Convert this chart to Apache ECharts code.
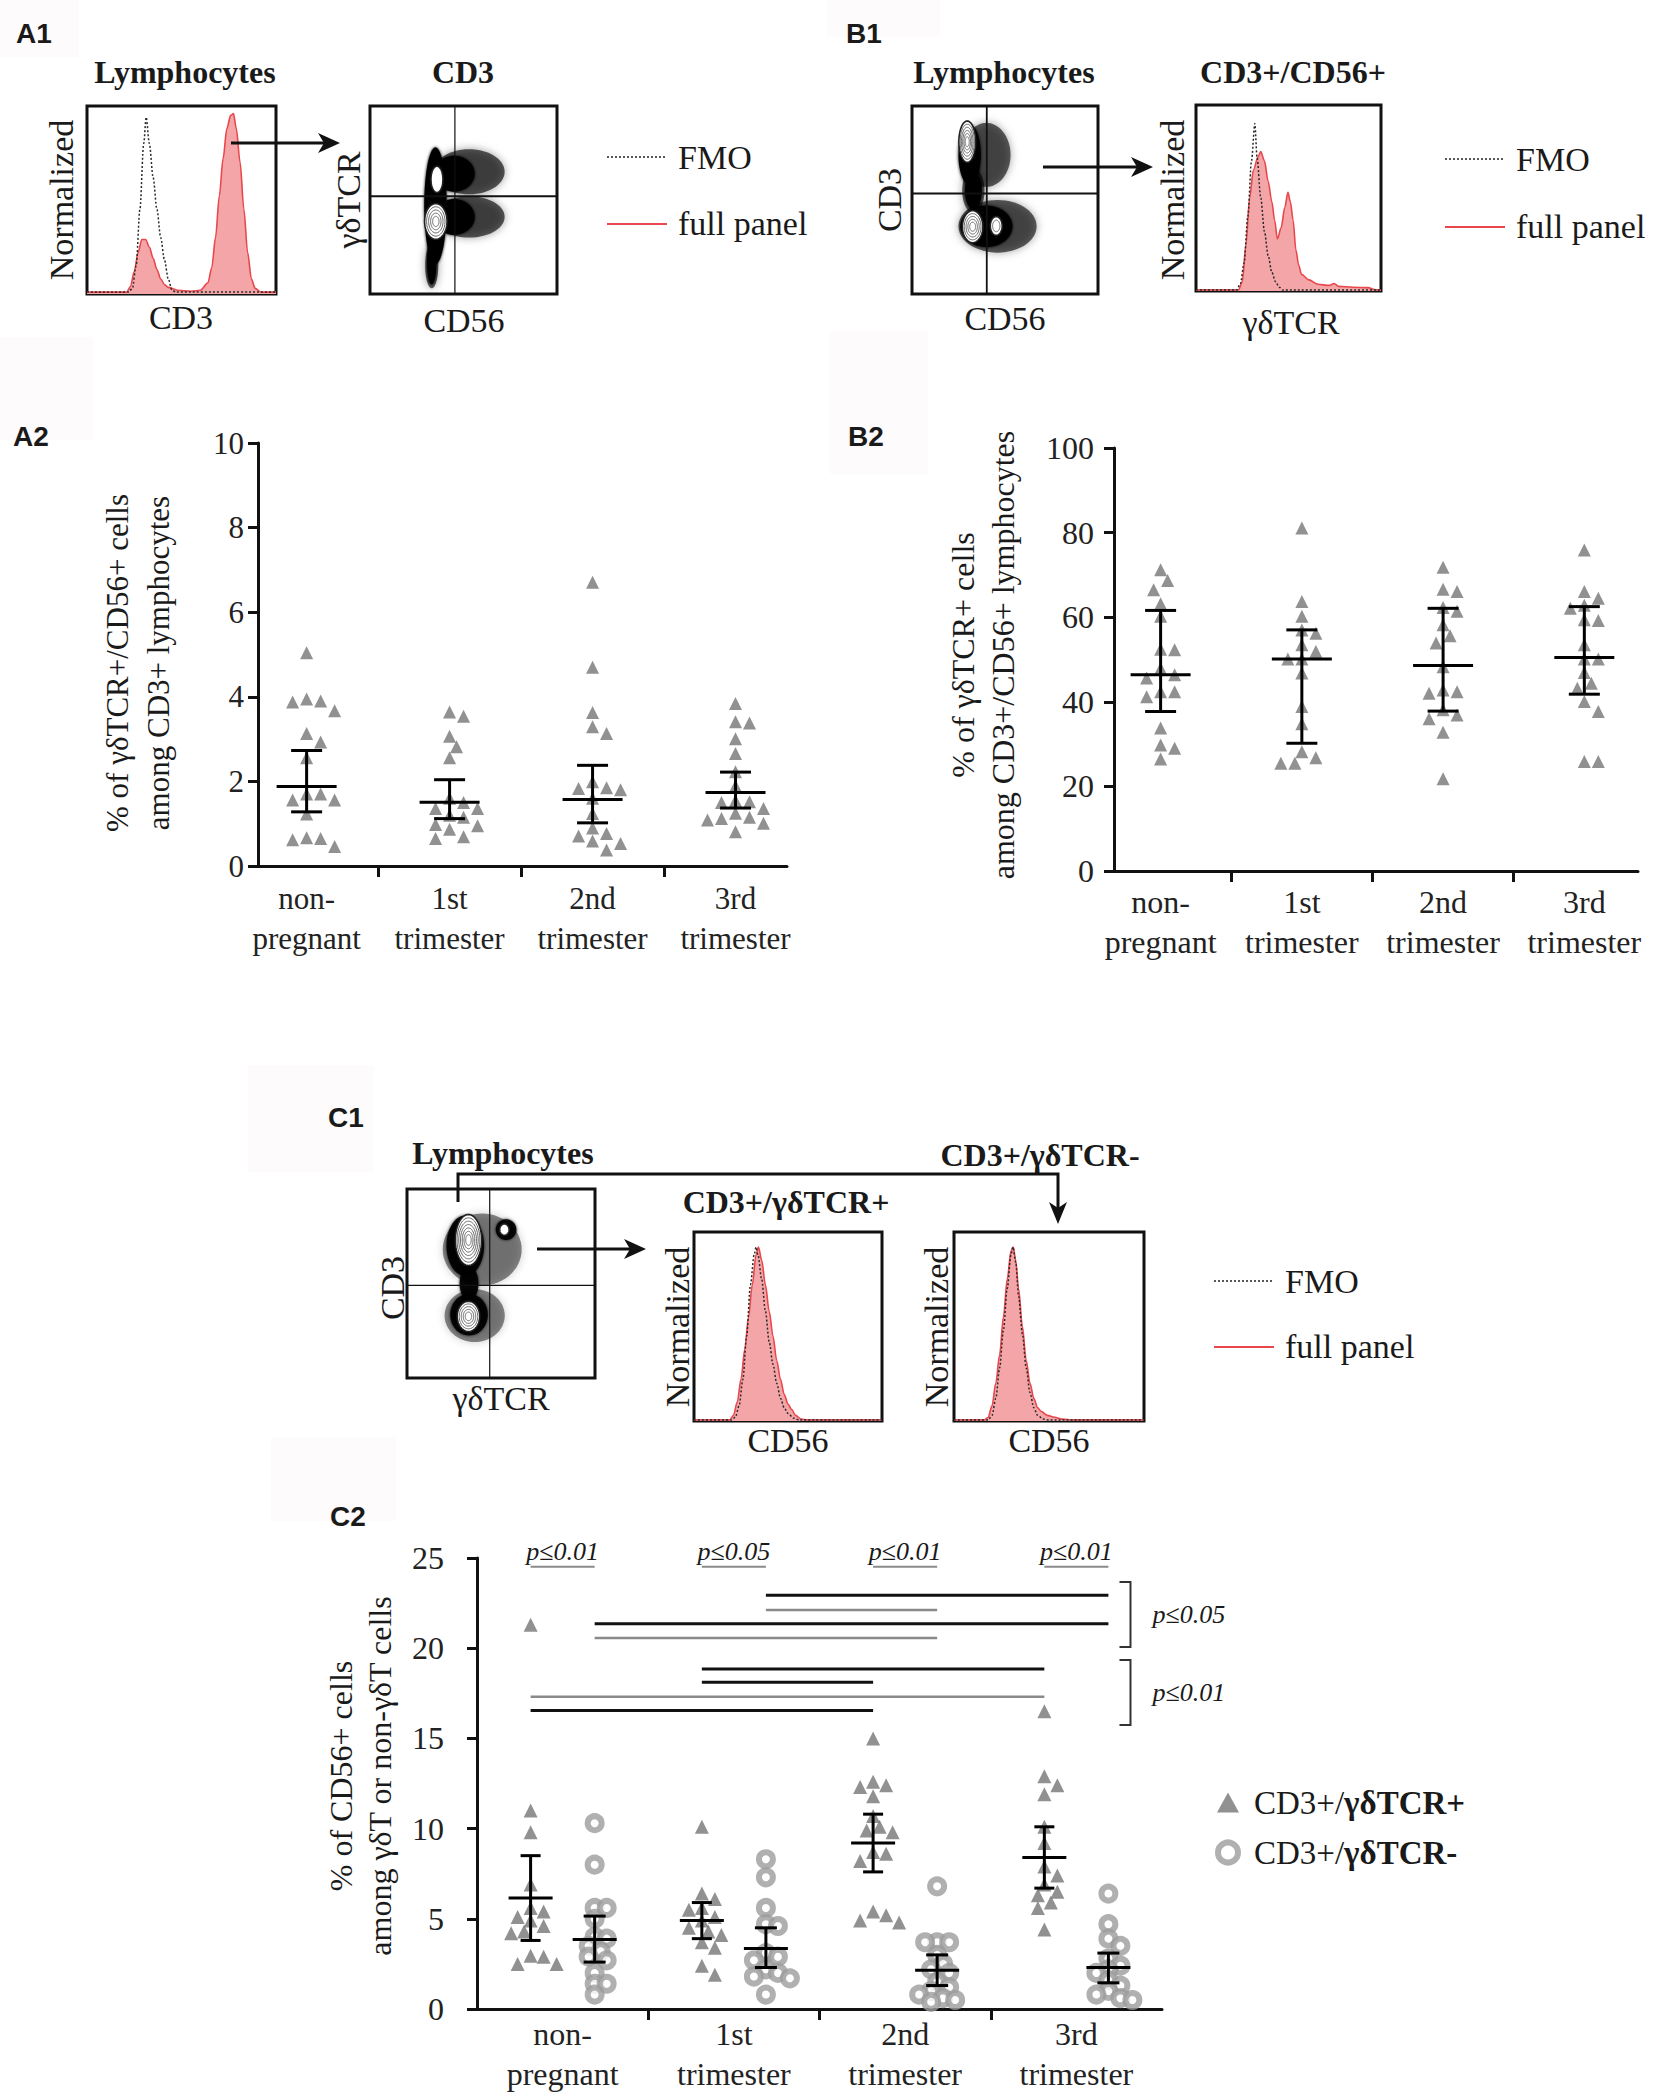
<!DOCTYPE html>
<html>
<head>
<meta charset="utf-8">
<title>CD56 on gamma-delta T cells</title>
<script src="https://cdn.jsdelivr.net/npm/echarts@6.0.0/dist/echarts.min.js"></script>
<style>
  html, body { margin:0; padding:0; background:#fff; }
  #chart { width:1654px; height:2098px; }
</style>
</head>
<body>
<div id="chart"></div>
<script>
var SERIF = "'Liberation Serif','Times New Roman',Times,serif";
var SANS = "'Liberation Sans Narrow','Liberation Sans',Arial,sans-serif";
var INK = "#1a1a1a";

// x axis groups of A2, B2, C2
var groupNames = ["non-\npregnant", "1st\ntrimester", "2nd\ntrimester", "3rd\ntrimester"];

// A2 : % of γδTCR+/CD56+ among CD3+ lymphocytes
var a2NonPreg = [5.04, 3.95, 3.9, 3.88, 3.67, 3.13, 2.93, 2.56, 1.7, 1.7, 1.56, 1.56, 1.23, 0.67, 0.65, 0.62, 0.46];
var a2First   = [3.64, 3.54, 3.07, 2.82, 2.56, 1.6, 1.5, 1.36, 1.36, 1.2, 1.15, 0.98, 0.95, 0.87, 0.69, 0.65];
var a2Second  = [6.71, 4.7, 3.63, 3.29, 3.13, 1.99, 1.85, 1.83, 1.8, 1.6, 1.24, 0.9, 0.77, 0.71, 0.59, 0.53, 0.38];
var a2Third   = [3.84, 3.41, 3.38, 3.01, 2.66, 2.23, 1.89, 1.55, 1.52, 1.5, 1.36, 1.25, 1.15, 1.12, 1.09, 1.01, 0.81];
var a2Mean = [1.88, 1.51, 1.57, 1.74];
var a2Low  = [1.28, 1.12, 1.02, 1.37];
var a2High = [2.73, 2.04, 2.38, 2.22];

// B2 : % of γδTCR+ among CD3+/CD56+ lymphocytes
var b2NonPreg = [71.2, 68.7, 66.5, 63.2, 60.2, 52.4, 52.3, 47.9, 46.4, 45.6, 42.4, 42.4, 41.2, 33.8, 29.8, 29.0, 26.5];
var b2First   = [81.1, 63.7, 60.2, 57.0, 56.2, 53.5, 51.9, 50.1, 50.1, 46.8, 38.9, 34.8, 28.2, 26.8, 25.5, 25.5];
var b2Second  = [71.8, 66.6, 66.1, 62.3, 61.4, 58.2, 55.6, 53.9, 48.3, 42.8, 42.4, 42.0, 38.1, 36.9, 36.0, 32.8, 21.8];
var b2Third   = [75.9, 66.1, 64.5, 62.8, 62.1, 59.4, 59.2, 53.5, 50.1, 50.1, 46.9, 44.4, 43.2, 40.1, 37.7, 25.9, 25.9];
var b2Mean = [46.4, 50.1, 48.6, 50.5];
var b2Low  = [37.7, 30.2, 37.8, 41.8];
var b2High = [61.6, 57.0, 62.1, 62.5];

// C2 : % of CD56+ among γδT (triangles) or non-γδT (circles)
var c2TriNonPreg = [21.3, 11.0, 9.8, 6.9, 5.6, 5.4, 5.1, 4.9, 4.6, 4.3, 4.2, 2.95, 2.9, 2.5, 2.5];
var c2TriFirst   = [10.1, 6.4, 6.1, 5.6, 5.5, 5.1, 4.9, 4.5, 4.3, 4.1, 3.7, 3.4, 2.4, 1.9];
var c2TriSecond  = [15.0, 12.6, 12.4, 12.3, 11.8, 10.7, 10.1, 9.9, 9.8, 8.7, 8.6, 8.2, 5.4, 5.2, 4.9, 4.8];
var c2TriThird   = [16.5, 12.9, 12.4, 11.9, 10.1, 9.2, 7.9, 7.4, 6.9, 6.5, 6.3, 5.9, 5.6, 4.4];
var c2CirNonPreg = [10.3, 8.0, 5.6, 5.6, 5.0, 4.0, 3.9, 3.5, 3.2, 2.9, 2.7, 2.0, 1.4, 1.4, 0.8];
var c2CirFirst   = [8.3, 7.3, 5.6, 4.7, 4.6, 3.1, 2.9, 2.7, 2.2, 2.0, 1.8, 1.7, 0.8];
var c2CirSecond  = [6.8, 3.7, 3.7, 3.7, 3.0, 2.5, 2.2, 2.0, 1.5, 1.2, 1.0, 0.8, 0.6, 0.5, 0.4];
var c2CirThird   = [6.4, 4.7, 3.9, 3.5, 2.8, 2.4, 2.2, 2.0, 1.6, 1.3, 1.0, 0.8, 0.6, 0.5];
var c2TriMean = [6.15, 4.9, 9.2, 8.4];
var c2TriLow  = [3.8, 3.9, 7.6, 6.7];
var c2TriHigh = [8.5, 5.9, 10.8, 10.1];
var c2CirMean = [3.85, 3.35, 2.15, 2.3];
var c2CirLow  = [2.6, 2.3, 1.3, 1.45];
var c2CirHigh = [5.15, 4.5, 3.0, 3.1];

// C2 comparison bars (from group, to group, side 1=circles -1=triangles, y, dark)
var sigFrom = [1, 1, 0, 0, 1, 1, 0, 0];
var sigTo   = [3, 2, 3, 2, 3, 2, 3, 2];
var sigSide = [1, 1, 1, 1, -1, -1, -1, -1];
var sigY    = [22.93, 22.12, 21.36, 20.57, 18.85, 18.11, 17.31, 16.54];
var sigDark = [1, 0, 1, 0, 1, 1, 0, 1];
var pTop = ["p≤0.01", "p≤0.05", "p≤0.01", "p≤0.01"];
var pBrackets = [[23.67, 20.07, "p≤0.05"], [19.35, 15.74, "p≤0.01"]];

// flow histograms, box units 0..100
var a1Fmo  = [[0,1],[22,1],[24,3],[26,15],[28,45],[30,80],[31.3,94],[33,80],[35,62],[37,45],[39,30],[41,18],[43,8],[45,2],[47,1],[100,1]];
var a1Full = [[0,1],[21,1],[23,4],[25,12],[27,22],[29,29],[31,29],[33,25],[35,19],[37,13],[39,8],[41,5],[43,3.5],[48,2],[55,1.5],[60,2],[64,6],[66,14],[68,30],[70,52],[72,72],[74,88],[76,95],[77.5,96],[79,88],[81,70],[83,45],[85,22],[87,8],[89,3],[92,1],[100,1]];
var b1Fmo  = [[0,0.5],[22,0.5],[24,4],[26,15],[28,40],[30,70],[31.8,90],[33,72],[35,50],[37,32],[39,19],[41,10],[43,5],[45,2],[47,0.5],[100,0.5]];
var b1Full = [[0,0.5],[23,0.5],[25,5],[27,25],[29,50],[31,65],[33.5,72],[35,75],[37,70],[39,59],[41,48],[42.5,38],[44,28],[46,34],[48,45],[49.7,53],[51,48],[52.5,38],[54,22],[55.5,14],[57,9],[61,6],[66,3.6],[72,3],[74.7,4],[77,2.5],[85,2],[93,1.8],[97,0.6],[100,0.5]];
var c1PosFmo  = [[0,0.5],[20,0.5],[22,2],[24,8],[26,22],[28,45],[30,72],[32,88],[33,92],[34,88],[36,75],[38,58],[40,42],[42,30],[44,20],[46,12],[48,7],[50,4],[53,1.5],[56,0.5],[100,0.5]];
var c1PosFull = [[0,0.5],[19,0.5],[21,3],[23,10],[25,22],[27,38],[29,55],[31,72],[33,88],[34.3,92],[36,85],[38,72],[40,58],[42,45],[44,32],[46,22],[48,14],[50,9],[52,6],[54,3],[57,1],[60,0.5],[100,0.5]];
var c1NegFmo  = [[0,0.5],[18,0.5],[20,3],[22,12],[24,28],[26,48],[28,70],[30,88],[31,92],[32.5,84],[34,66],[36,46],[38,28],[40,15],[42,7],[44,3],[47,1],[50,0.5],[100,0.5]];
var c1NegFull = [[0,0.5],[16,0.5],[18,2],[20,8],[22,20],[24,35],[26,55],[28,75],[30,90],[31.2,92],[32.5,85],[34,70],[36,50],[38,32],[40,20],[42,12],[44,7],[46,5],[49,3],[53,2],[57,1],[62,0.5],[100,0.5]];

// flow dot plots: populations [cx, cy, rx, ry], contour islands [cx, cy, rx, ry, rings], gates [x, y]
var a1Dense   = [[35,47,6,31],[45,64,11,9.5],[45,41,11,9.5],[33,17,2.5,12]];
var a1Sparse  = [[53,65,19,12],[53,41,19,11],[33,15,3.5,12]];
var a1Islands = [[35.8,61,3.2,7,1],[35.2,38.6,6,9.5,5]];
var a1Gate    = [[45.4,52]];
var b1Dense   = [[31,74,6,16],[33,55,4.5,10],[40,36,14,11]];
var b1Sparse  = [[40,74,13,17],[46,36,21,14],[33,55,6,12]];
var b1Islands = [[29.7,81,4.5,11,6],[32.6,35.8,5.5,8.5,5],[45.3,36.2,3.2,5,2]];
var b1Gate    = [[40.2,53.5]];
var c1Dense   = [[31,70,10,16],[52.7,78.5,5.5,5.5],[33,50,5,9],[33,33.5,10,11]];
var c1Sparse  = [[40,68,21,19],[36,33,16,14]];
var c1Islands = [[32.7,73,7,13.5,7],[51.8,78.5,2.5,3,1],[32.7,32.6,6,8,5]];
var c1Gate    = [[44,49]];

// grid boxes
var grids = [
  {left:87,  top:106,  width:189, height:188},  // 0 A1 histogram
  {left:370, top:106,  width:187, height:188},  // 1 A1 dot plot
  {left:912, top:106,  width:186, height:188},  // 2 B1 dot plot
  {left:1196,top:105,  width:185, height:186},  // 3 B1 histogram
  {left:258, top:443,  width:529, height:423},  // 4 A2
  {left:1114,top:448,  width:524, height:423},  // 5 B2
  {left:407, top:1189, width:188, height:189},  // 6 C1 dot plot
  {left:694, top:1232, width:188, height:189},  // 7 C1 hist +
  {left:954, top:1232, width:190, height:189},  // 8 C1 hist -
  {left:477, top:1558, width:685, height:451}   // 9 C2
];
var xRange = {4:[-0.34,3.36], 5:[-0.33,3.38], 9:[-0.5,3.5]};
var C2_OFF = 0.187;

function unitX(g){ return grids[g].width/(xRange[g][1]-xRange[g][0]); }

// simple beeswarm, keeps dots from overlapping
function swarm(vals, center, ux, uy, gap){
  var placed = [], out = [];
  var order = vals.map(function(v,i){return i;}).sort(function(a,b){return vals[b]-vals[a];});
  order.forEach(function(i){
    var v = vals[i], y = v*uy, off = 0;
    for (var k=0; k<80; k++){
      off = k===0 ? 0 : (k%2===1 ? 1 : -1)*Math.ceil(k/2)*gap*0.5;
      var ok = placed.every(function(p){ var dx=off-p[0], dy=y-p[1]; return dx*dx+dy*dy >= gap*gap*0.8; });
      if (ok) break;
    }
    placed.push([off, y]);
    out.push([center + off/ux, v]);
  });
  return out;
}

function ell(cx, cy, rx, ry){
  var pts = [];
  for (var i=0; i<60; i++){ var a=i/60*Math.PI*2; pts.push([cx+rx*Math.cos(a), cy+ry*Math.sin(a)]); }
  return pts;
}

function blobSeries(g, list, fill, blur){
  return {type:'custom', coordinateSystem:'cartesian2d', xAxisIndex:g, yAxisIndex:g, silent:true, z:2,
    data:list,
    renderItem:function(params, api){
      var c = api.coord([api.value(0), api.value(1)]);
      var s = api.size([api.value(2), api.value(3)]);
      return {type:'polygon', shape:{points:ell(c[0],c[1],s[0],s[1])},
        style:{fill:fill, shadowBlur:blur, shadowColor:fill}};
    }};
}

function islandSeries(g, list){
  return {type:'custom', coordinateSystem:'cartesian2d', xAxisIndex:g, yAxisIndex:g, silent:true, z:3,
    data:list,
    renderItem:function(params, api){
      var c = api.coord([api.value(0), api.value(1)]);
      var s = api.size([api.value(2), api.value(3)]);
      var n = api.value(4), kids = [];
      for (var k=0; k<n; k++){
        var f = 1 - k/(n+0.6);
        kids.push({type:'polygon', shape:{points:ell(c[0],c[1],s[0]*f,s[1]*f)},
          style:{fill:k===0?'#fff':'none', stroke:k===0?'#222':'#666', lineWidth:k===0?1.6:1}});
      }
      return {type:'group', children:kids};
    }};
}

function gateSeries(g, list, vw, hw){
  return {type:'custom', coordinateSystem:'cartesian2d', xAxisIndex:g, yAxisIndex:g, silent:true, z:4,
    data:list,
    renderItem:function(params, api){
      var gx = api.value(0), gy = api.value(1);
      var a = api.coord([gx,0]), b = api.coord([gx,100]), c = api.coord([0,gy]), d = api.coord([100,gy]);
      return {type:'group', children:[
        {type:'line', shape:{x1:a[0],y1:a[1],x2:b[0],y2:b[1]}, style:{stroke:'#111', lineWidth:vw}},
        {type:'line', shape:{x1:c[0],y1:c[1],x2:d[0],y2:d[1]}, style:{stroke:'#111', lineWidth:hw}}
      ]};
    }};
}

function histSeries(g, data, full){
  var s = {type:'line', xAxisIndex:g, yAxisIndex:g, data:data, smooth:0.3, smoothMonotone:'x',
    symbol:'none', silent:true, z:full?2:3};
  if (full){
    s.lineStyle = {color:'#e8474c', width:1.6};
    s.areaStyle = {color:'#f3a5a8', opacity:1};
  } else {
    s.lineStyle = {color:'#2a2a2a', width:1.5, type:[2,2]};
  }
  return s;
}

function meanBar(g, x, mean, low, high, halfMean, halfCap){
  return {type:'custom', coordinateSystem:'cartesian2d', xAxisIndex:g, yAxisIndex:g, silent:true, z:6,
    data:mean.map(function(m,i){ return [x[i], m, low[i], high[i]]; }),
    renderItem:function(params, api){
      var xv = api.value(0);
      var pm = api.coord([xv, api.value(1)]), pl = api.coord([xv, api.value(2)]), ph = api.coord([xv, api.value(3)]);
      var st = {stroke:'#000', lineWidth:3};
      return {type:'group', children:[
        {type:'line', shape:{x1:pm[0]-halfMean,y1:pm[1],x2:pm[0]+halfMean,y2:pm[1]}, style:st},
        {type:'line', shape:{x1:pl[0],y1:pl[1],x2:ph[0],y2:ph[1]}, style:st},
        {type:'line', shape:{x1:pl[0]-halfCap,y1:pl[1],x2:pl[0]+halfCap,y2:pl[1]}, style:st},
        {type:'line', shape:{x1:ph[0]-halfCap,y1:ph[1],x2:ph[0]+halfCap,y2:ph[1]}, style:st}
      ]};
    }};
}

function flowAxis(g){ return {gridIndex:g, type:'value', min:0, max:100, show:false}; }
function groupAxisX(g, size, margin){
  return {gridIndex:g, type:'value', min:xRange[g][0], max:xRange[g][1],
    axisLine:{show:true, onZero:false, lineStyle:{color:'#111', width:3}},
    axisTick:{show:true, customValues:[0.5,1.5,2.5], length:11, lineStyle:{color:'#111', width:3}},
    axisLabel:{show:true, customValues:[0,1,2,3], formatter:function(v){ return groupNames[Math.round(v)]; },
      fontFamily:SERIF, fontSize:size, color:'#222', lineHeight:40, margin:margin},
    splitLine:{show:false}};
}
function valueAxisY(g, max, step, size, margin){
  return {gridIndex:g, type:'value', min:0, max:max, interval:step,
    axisLine:{show:true, onZero:false, lineStyle:{color:'#111', width:3}},
    axisTick:{show:true, length:10, lineStyle:{color:'#111', width:3}},
    axisLabel:{fontFamily:SERIF, fontSize:size, color:'#222', margin:margin},
    splitLine:{show:false}};
}

// points for the dot plots
var TRI = '#767676';
var RING = '#9c9c9c';
function groupPoints(g, lists, shift, gap){
  var ux = unitX(g), uy = grids[g].height/(g===4?10:(g===5?100:25));
  var pts = [];
  lists.forEach(function(l, i){ pts = pts.concat(swarm(l, i+shift, ux, uy, gap)); });
  return pts;
}
var a2Points = groupPoints(4, [a2NonPreg, a2First, a2Second, a2Third], 0, 14);
var b2Points = groupPoints(5, [b2NonPreg, b2First, b2Second, b2Third], 0, 14);
var c2TriPoints = groupPoints(9, [c2TriNonPreg, c2TriFirst, c2TriSecond, c2TriThird], -C2_OFF, 13);
var c2CirPoints = groupPoints(9, [c2CirNonPreg, c2CirFirst, c2CirSecond, c2CirThird], C2_OFF, 12);

// decoration: labels, arrows, legends of the flow panels
var deco = [];
function addRect(x,y,w,h){ deco.push({type:'rect', z:0, silent:true, shape:{x:x,y:y,width:w,height:h}, style:{fill:'#fdfbfb'}}); }
function addText(x,y,s,size,o){
  o = o || {};
  deco.push({type:'text', x:x, y:y, rotation:o.rot||0, z:100, silent:true,
    style:{text:s, fontFamily:o.font||SERIF, fontSize:size, fontWeight:o.bold?'bold':'normal',
      fontStyle:o.italic?'italic':'normal', fill:INK, align:o.align||'center', verticalAlign:'middle'}});
}
function addLine(x1,y1,x2,y2,color,w,dash){
  deco.push({type:'line', z:100, silent:true, shape:{x1:x1,y1:y1,x2:x2,y2:y2}, style:{stroke:color, lineWidth:w, lineDash:dash||null}});
}
function addArrowRight(x1,x2,y){
  addLine(x1,y,x2-14,y,'#111',3);
  deco.push({type:'polygon', z:100, silent:true, shape:{points:[[x2,y],[x2-22,y-10],[x2-16,y],[x2-22,y+10]]}, style:{fill:'#111'}});
}
function addFlowLegend(x, y1, y2){
  addLine(x, y1, x+60, y1, '#222', 1.6, [2,2]);
  addText(x+71, y1, "FMO", 34, {align:'left'});
  addLine(x, y2, x+60, y2, '#e8474c', 1.8);
  addText(x+71, y2-1, "full panel", 34, {align:'left'});
}
var ROT = Math.PI/2;

addRect(0,0,79,57); addRect(0,337,93,103); addRect(827,0,113,37);
addRect(830,331,98,143); addRect(248,1065,126,107); addRect(271,1437,125,84);

// A1
addText(16,33,"A1",28,{font:SANS,bold:true,align:'left'});
addText(185,72,"Lymphocytes",32,{bold:true});
addText(463,72,"CD3",32,{bold:true});
addText(61,200,"Normalized",34,{rot:ROT});
addText(181,317,"CD3",34);
addText(348,200,"γδTCR",34,{rot:ROT});
addText(464,320,"CD56",34);
addArrowRight(231,340,143);
addFlowLegend(607,157,224);

// B1
addText(846,33,"B1",28,{font:SANS,bold:true,align:'left'});
addText(1004,72,"Lymphocytes",32,{bold:true});
addText(1293,72,"CD3+/CD56+",32,{bold:true});
addText(889,200,"CD3",34,{rot:ROT});
addText(1005,318,"CD56",34);
addText(1172,200,"Normalized",34,{rot:ROT});
addText(1291,322,"γδTCR",34);
addArrowRight(1043,1153,167);
addFlowLegend(1445,159,227);

// A2 / B2 labels
addText(13,436,"A2",28,{font:SANS,bold:true,align:'left'});
addText(117,663,"% of γδTCR+/CD56+ cells",31,{rot:ROT});
addText(158,663,"among CD3+ lymphocytes",31,{rot:ROT});
addText(848,436,"B2",28,{font:SANS,bold:true,align:'left'});
addText(963,655,"% of γδTCR+ cells",32,{rot:ROT});
addText(1003,655,"among CD3+/CD56+ lymphocytes",32,{rot:ROT});

// C1
addText(328,1117,"C1",28,{font:SANS,bold:true,align:'left'});
addText(503,1153,"Lymphocytes",32,{bold:true});
addText(1040,1155,"CD3+/γδTCR-",32,{bold:true});
addText(786,1202,"CD3+/γδTCR+",32,{bold:true});
deco.push({type:'polyline', z:100, silent:true, shape:{points:[[458,1202],[458,1174],[1058,1174],[1058,1212]]}, style:{stroke:'#111', lineWidth:3, fill:null}});
deco.push({type:'polygon', z:100, silent:true, shape:{points:[[1058,1224],[1049,1202],[1058,1208],[1067,1202]]}, style:{fill:'#111'}});
addArrowRight(537,646,1249);
addText(392,1288,"CD3",34,{rot:ROT});
addText(501,1398,"γδTCR",34);
addText(677,1327,"Normalized",34,{rot:ROT});
addText(936,1327,"Normalized",34,{rot:ROT});
addText(788,1440,"CD56",34);
addText(1049,1440,"CD56",34);
addFlowLegend(1214,1281,1347);

// C2
addText(330,1516,"C2",28,{font:SANS,bold:true,align:'left'});
addText(341,1776,"% of CD56+ cells",32,{rot:ROT});
addText(380,1776,"among γδT or non-γδT cells",32,{rot:ROT});

var series = [
  // A1
  histSeries(0, a1Full, true), histSeries(0, a1Fmo, false),
  blobSeries(1, a1Sparse, 'rgba(0,0,0,0.62)', 8), blobSeries(1, a1Dense, '#000', 3),
  islandSeries(1, a1Islands), gateSeries(1, a1Gate, 1.2, 2.2),
  // B1
  blobSeries(2, b1Sparse, 'rgba(0,0,0,0.6)', 8), blobSeries(2, b1Dense, '#000', 3),
  islandSeries(2, b1Islands), gateSeries(2, b1Gate, 1.8, 2),
  histSeries(3, b1Full, true), histSeries(3, b1Fmo, false),
  // C1
  blobSeries(6, c1Sparse, 'rgba(0,0,0,0.45)', 8), blobSeries(6, c1Dense, 'rgba(0,0,0,0.9)', 3),
  islandSeries(6, c1Islands), gateSeries(6, c1Gate, 1.2, 1.2),
  histSeries(7, c1PosFull, true), histSeries(7, c1PosFmo, false),
  histSeries(8, c1NegFull, true), histSeries(8, c1NegFmo, false),
  // A2
  {type:'scatter', xAxisIndex:4, yAxisIndex:4, data:a2Points, symbol:'triangle', symbolSize:13, itemStyle:{color:TRI}, silent:true, z:2},
  meanBar(4, [0,1,2,3], a2Mean, a2Low, a2High, 30, 15.5),
  // B2
  {type:'scatter', xAxisIndex:5, yAxisIndex:5, data:b2Points, symbol:'triangle', symbolSize:13, itemStyle:{color:TRI}, silent:true, z:2},
  meanBar(5, [0,1,2,3], b2Mean, b2Low, b2High, 30, 15.5),
  // C2
  {name:'CD3+/γδTCR+', type:'scatter', xAxisIndex:9, yAxisIndex:9, data:c2TriPoints, symbol:'triangle', symbolSize:14, itemStyle:{color:TRI}, silent:true, z:2},
  {name:'CD3+/γδTCR-', type:'scatter', xAxisIndex:9, yAxisIndex:9, data:c2CirPoints, symbol:'circle', symbolSize:14, itemStyle:{color:'#fff', borderColor:RING, borderWidth:6}, silent:true, z:2},
  meanBar(9, [0-C2_OFF,1-C2_OFF,2-C2_OFF,3-C2_OFF], c2TriMean, c2TriLow, c2TriHigh, 22, 10),
  meanBar(9, [0+C2_OFF,1+C2_OFF,2+C2_OFF,3+C2_OFF], c2CirMean, c2CirLow, c2CirHigh, 22, 11),
  // comparison bars
  {type:'custom', coordinateSystem:'cartesian2d', xAxisIndex:9, yAxisIndex:9, silent:true, z:4,
    data:sigY.map(function(y,i){ return [sigFrom[i]+sigSide[i]*C2_OFF, sigTo[i]+sigSide[i]*C2_OFF, y, sigDark[i]]; }),
    encode:{x:[0,1], y:2},
    renderItem:function(params, api){
      var a = api.coord([api.value(0), api.value(2)]), b = api.coord([api.value(1), api.value(2)]);
      var dark = api.value(3) === 1;
      return {type:'line', shape:{x1:a[0],y1:a[1],x2:b[0],y2:b[1]}, style:{stroke:dark?'#111':'#8a8a8a', lineWidth:dark?3:2.5}};
    }},
  // p values above each group
  {type:'custom', coordinateSystem:'cartesian2d', xAxisIndex:9, yAxisIndex:9, silent:true, z:4, clip:false,
    data:pTop.map(function(t,i){ return [i, i]; }),
    renderItem:function(params, api){
      var g = api.value(0);
      var t = api.coord([g, 25.35]), u1 = api.coord([g-C2_OFF, 24.52]), u2 = api.coord([g+C2_OFF, 24.52]);
      return {type:'group', children:[
        {type:'text', x:t[0], y:t[1], style:{text:pTop[params.dataIndex], fontFamily:SERIF, fontStyle:'italic', fontSize:26, fill:INK, align:'center', verticalAlign:'middle'}},
        {type:'line', shape:{x1:u1[0],y1:u1[1],x2:u2[0],y2:u2[1]}, style:{stroke:'#8a8a8a', lineWidth:2}}
      ]};
    }},
  // right brackets
  {type:'custom', coordinateSystem:'cartesian2d', xAxisIndex:9, yAxisIndex:9, silent:true, z:4, clip:false,
    data:pBrackets.map(function(b,i){ return [3.316, b[0], b[1]]; }),
    renderItem:function(params, api){
      var top = api.coord([api.value(0), api.value(1)]), bot = api.coord([api.value(0), api.value(2)]);
      return {type:'group', children:[
        {type:'polyline', shape:{points:[[top[0]-11,top[1]],[top[0],top[1]],[bot[0],bot[1]],[bot[0]-11,bot[1]]]}, style:{stroke:'#333', lineWidth:2, fill:null}},
        {type:'text', x:top[0]+22, y:(top[1]+bot[1])/2, style:{text:pBrackets[params.dataIndex][2], fontFamily:SERIF, fontStyle:'italic', fontSize:26, fill:INK, align:'left', verticalAlign:'middle'}}
      ]};
    }}
];

var chart = echarts.init(document.getElementById('chart'), null, {renderer:'svg'});
chart.setOption({
  animation:false,
  backgroundColor:'#fff',
  grid: grids.map(function(b, i){
    var flow = [0,1,2,3,6,7,8].indexOf(i) >= 0;
    return {left:b.left, top:b.top, width:b.width, height:b.height, containLabel:false, outerBoundsMode:'none',
      show:flow, borderColor:'#111', borderWidth:3, backgroundColor:'transparent'};
  }),
  xAxis: [flowAxis(0), flowAxis(1), flowAxis(2), flowAxis(3), groupAxisX(4,31,12), groupAxisX(5,32,11),
          flowAxis(6), flowAxis(7), flowAxis(8), groupAxisX(9,32,5)],
  yAxis: [flowAxis(0), flowAxis(1), flowAxis(2), flowAxis(3), valueAxisY(4,10,2,31,14), valueAxisY(5,100,20,32,20),
          flowAxis(6), flowAxis(7), flowAxis(8), valueAxisY(9,25,5,32,33)],
  legend: {
    show:true, orient:'vertical', left:1210, top:1781, itemGap:17, itemWidth:22, itemHeight:20,
    selectedMode:false,
    data:[
      {name:'CD3+/γδTCR+', itemStyle:{color:TRI}},
      {name:'CD3+/γδTCR-', itemStyle:{color:'#fff', borderColor:RING, borderWidth:6}}
    ],
    formatter:function(n){ var i = n.indexOf('/'); return '{a|' + n.slice(0, i+1) + '}{b|' + n.slice(i+1) + '}'; },
    textStyle:{rich:{
      a:{fontFamily:SERIF, fontSize:33, color:INK, padding:[0,0,0,10], lineHeight:38},
      b:{fontFamily:SERIF, fontSize:33, fontWeight:'bold', color:INK, lineHeight:38}
    }}
  },
  graphic:{elements:deco},
  series:series
});
</script>
</body>
</html>
